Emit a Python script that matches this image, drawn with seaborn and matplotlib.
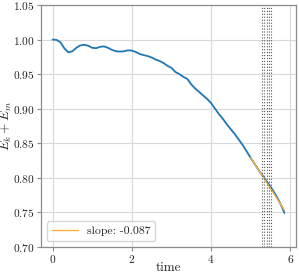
import numpy as np
import pandas as pd
import matplotlib
matplotlib.use("Agg")
import matplotlib.pyplot as plt
import seaborn as sns

# ---- data ----
time = [0.0, 0.1, 0.2, 0.3, 0.4, 0.5, 0.6, 0.7, 0.8, 0.9,
        1.0, 1.1, 1.2, 1.3, 1.4, 1.5, 1.6, 1.7, 1.8, 1.9,
        2.0, 2.1, 2.2, 2.3, 2.4, 2.5, 2.6, 2.7, 2.8, 2.9,
        3.0, 3.1, 3.2, 3.3, 3.4, 3.5, 3.6, 3.7, 3.8, 3.9,
        4.0, 4.1, 4.2, 4.3, 4.4, 4.5, 4.6, 4.7, 4.8, 4.9,
        5.0, 5.1, 5.2, 5.3, 5.4, 5.5, 5.6, 5.7, 5.8, 5.85]
energy = [1.000, 0.9995, 0.996, 0.987, 0.9815, 0.983, 0.988, 0.9915, 0.9925, 0.991,
          0.988, 0.9875, 0.9895, 0.990, 0.988, 0.985, 0.983, 0.9825, 0.983, 0.9843,
          0.984, 0.982, 0.979, 0.9775, 0.976, 0.974, 0.971, 0.969, 0.966, 0.962,
          0.959, 0.953, 0.950, 0.946, 0.943, 0.935, 0.929, 0.924, 0.919, 0.914,
          0.908, 0.900, 0.892, 0.885, 0.877, 0.870, 0.863, 0.855, 0.847, 0.838,
          0.8285, 0.820, 0.811, 0.803, 0.795, 0.787, 0.778, 0.768, 0.756, 0.749]
fit_time = [5.0, 5.85]
fit_energy = [0.829, 0.753]
fit_label = "slope: -0.087"
marker_times = [5.29, 5.34, 5.40, 5.45, 5.51]

df = pd.DataFrame({"time": time, "energy": energy})
df_fit = pd.DataFrame({"time": fit_time, "energy": fit_energy})

sns.set_style("whitegrid", {"xtick.bottom": True, "ytick.left": True,
                            "axes.edgecolor": ".55", "grid.color": ".85"})
plt.rcParams["font.family"] = ["cmr10"]
plt.rcParams["mathtext.fontset"] = "cm"
plt.rcParams["axes.formatter.use_mathtext"] = True

fig = plt.figure(figsize=(2.99, 2.77), dpi=100)
ax = fig.add_axes([0.137, 0.109, 0.853, 0.873])

sns.lineplot(data=df, x="time", y="energy", ax=ax, color="#1f77b4", lw=1.3)
sns.lineplot(data=df_fit, x="time", y="energy", ax=ax, color="#fbb040", lw=1.0,
             label=fit_label)
for t in marker_times:
    ax.axvline(t, color="0.35", ls=":", lw=0.8)

ax.set_ylim(0.70, 1.05)
ax.set_yticks([0.70, 0.75, 0.80, 0.85, 0.90, 0.95, 1.00, 1.05])
ax.set_xticks([0, 2, 4, 6])
ax.set_xlabel("time", fontsize=9.5)
ax.set_ylabel(r"$E_k + E_m$", fontsize=9.5)
ax.xaxis.set_label_coords(0.5, -0.088)
ax.xaxis.label.set_va("center")
ax.yaxis.set_label_coords(-0.135, 0.5)
ax.yaxis.label.set_va("center")
ax.tick_params(labelsize=8.2, length=3, width=0.8, color=".55", pad=1.5)
for s in ax.spines.values():
    s.set_linewidth(0.9)
ax.legend(loc="lower left", fontsize=8.5, frameon=True, handlelength=2.2)

fig.savefig("out.png", dpi=100)
